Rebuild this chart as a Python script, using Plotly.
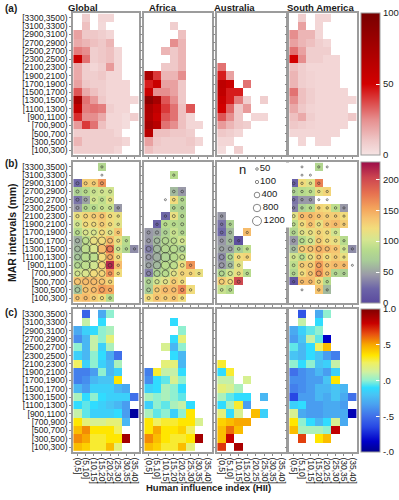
import math
import plotly.graph_objects as go

N = None
W, H = 399, 500

y_labels = ["[3300,3500)", "[3100,3300)", "[2900,3100)", "[2700,2900)", "[2500,2700)",
            "[2300,2500)", "[2100,2300)", "[1900,2100)", "[1700,1900)", "[1500,1700)",
            "[1300,1500)", "[1100,1300)", "[900,1100)", "[700,900)", "[500,700)",
            "[300,500)", "[100,300)"]
x_labels = ["(0,5]", "(5,10]", "(10,15]", "(15,20]", "(20,25]", "(25,30]", "(30,35]", "(35,40]"]
regions = ["Global", "Africa", "Australia", "South America"]
row_tags = ["(a)", "(b)", "(c)"]
legend_n = [50, 100, 400, 800, 1200]
cbar_a_ticks = [0, 50, 100]
cbar_b_ticks = [0, 50, 100, 150, 200]
cbar_c_ticks = [-1, -0.5, 0, 0.5, 1]
cbar_c_text = ["-.0", "-.5", ".0", ".5", "1.0"]

# ---------------- row (a) ----------------
glob_a = [
    [N, 8, N, 5, 5], [N, 12, N, 4], [20, 10, 10, 8, 5], [18, 15, 12, 10, 15],
    [28, 25, 8, 10, 12, 5], [55, 30, 8, 10, 12, 5], [18, 8, 5, 8, 22, 5],
    [18, 8, 8, 10, 5, 5], [20, 10, 8, 8, 5, 5, 5], [35, 18, 12, 8, 5, 5, 5],
    [75, 30, 22, 10, 5, 5, 5, 5], [60, 28, 30, 28, 8, 5, 5], [42, 25, 25, 18, 5, 5, 3, 8],
    [22, 40, 30, 12, 5, 5, 3], [8, 8, 8, 8, 8, 5], [15, 8, 8, 8, 8, 8, 5], [8, 8, 8, 8, 8, 5],
]
africa_a = [
    [], [N, N, N, 8], [N, N, N, N, 12], [N, N, N, 25, 15], [N, N, 15, 10, 15],
    [N, N, N, 10, 15], [N, N, 10, 10, 15], [72, 40, 15, 15, 25], [45, 55, 20, 20, 10],
    [55, 25, 25, 20, 10], [88, 75, 35, 25, 10], [72, 60, 40, 30, 12, 35],
    [70, 55, 35, 30, 12, 5], [75, 65, 30, 25, 12, 5, 5], [65, 12, 12, 10, 10, 8],
    [20, 10, 8, 8, 8, 10, 5], [12, 8, 8, 8, 8, 8],
]
australia_a = [
    [], [], [], [], [], [], [30], [45, 20], [62, 55, N, 30], [60, 45, 45],
    [55, 45, 28, 8, N, 8], [50, 32, 10, 22], [35, 25, 10, N, 5, 5], [22, 15, 10, 8],
    [10, 8, 5], [5, 5], [3, N, 8],
]
sa_a = [
    [N, 8, N, 5, 5], [N, 20, N, 5], [25, 15, 15, 5], [20, 15, 12, 8, 5], [30, 20, 8, 8, 8],
    [50, 25, 8, 8, 5, 5], [12, 8, 5, 5, 5, 5], [15, 8, 6, 5, 5, 5], [15, 8, 6, 5, 5, 5],
    [30, 12, 8, 5, 5, 5, 5], [25, 12, 8, 5, 5, 5, 5, 5], [18, 10, 6, 5, 5, 5, 5],
    [12, 18, 8, 5, 5, 5, 5, 10], [10, 8, 6, 5, 5, 5, 5], [5, 5, 5, 5, 5, 5], [N, 5, N, 5, 5], [],
]

# ---------------- row (b) ----------------
glob_b = [
    [N, N, N, 80], [], [25, 130, 130, 160], [75, 85, 95, 100, 100], [30, 50, 100, 90, 110],
    [45, 80, 85, 95, 95, 45], [115, 125, 130, 135, 120, 115], [100, 120, 120, 130, 120, 110],
    [85, 105, 105, 120, 110, 135], [55, 90, 115, 120, 140, 115, 85],
    [60, 90, 105, 140, 175, 100, 80, 40], [65, 85, 90, 120, 150, 120],
    [80, 90, 100, 125, 215, 140], [100, 105, 120, 125, 160, 120], [135, 140, 140, 135, 125],
    [65, 135, 140, 155, 150], [135, 140, 130, 120, 85],
]
glob_n = [
    [N, N, N, 30], [N, N, N, 20], [80, 80, 80, 80], [80, 80, 80, 80, 80], [80, 80, 80, 80, 80],
    [80, 80, 80, 80, 80, 40], [100, 150, 150, 150, 100, 40], [100, 200, 200, 150, 100, 40],
    [150, 300, 300, 300, 150, 40], [200, 600, 800, 800, 300, 80, 30],
    [400, 1200, 1300, 1200, 500, 100, 40, 30], [400, 1300, 1300, 1000, 300, 80],
    [400, 1200, 1200, 800, 150, 40], [300, 800, 800, 500, 100, 40], [500, 500, 500, 400, 100],
    [300, 300, 300, 300, 100], [100, 100, 100, 100, 50],
]
africa_b = [
    [], [N, N, N, 85], [], [N, N, N, 60, 45], [N, N, N, 120, 80], [N, N, N, 80, 75],
    [N, N, 25, 115, 80], [N, 20, 85, 85, 80], [45, 50, 75, 95, 80], [45, 60, 80, 90, 100],
    [35, 60, 80, 85, 75], [45, 55, 75, 85, 95], [50, 60, 85, 90, 115, 160],
    [35, 75, 85, 110, 125, 125, 115], [75, 100, 110, 130, 120], [70, 130, 140, 140, 165, 120],
    [120, 135, 130, 135, 120],
]
africa_n = [
    [], [N, N, N, 30], [], [N, N, N, 50, 50], [N, N, 20, 60, 60], [N, N, N, 60, 60],
    [N, N, 40, 80, 80], [N, 40, 80, 80, 80], [80, 100, 100, 100, 80], [150, 400, 600, 400, 150],
    [300, 800, 1000, 900, 300], [300, 1000, 1300, 1000, 300], [300, 800, 1000, 800, 150, 40],
    [200, 500, 600, 300, 100, 40, 30], [150, 200, 200, 150, 80], [150, 200, 200, 200, 100, 40],
    [80, 80, 80, 80, 50],
]
australia_b = [
    [], [], [], [], [], [], [45], [30, 75], [25, 60, N, 140], [45, 60, 5], [50, 50, 70, 90],
    [40, 75, 120, 125], [45, 60, 110], [80, 100, 115, 85], [130, 120, 200], [95, 85], [],
]
australia_n = [
    [], [], [], [], [], [], [40], [40, 30], [60, 60, N, 30], [100, 80, 30], [200, 150, 60, 30],
    [300, 200, 60, 40], [300, 150, 60], [300, 200, 80, 40], [300, 250, 80], [60, 60], [],
]
sa_b = [
    [N, N, N, 80], [], [20, 120, 110, 170], [75, 85, 90, 115, 125], [30, 45, 45],
    [35, 75, 85, 125, 120, 90, 45], [110, 140, 140, 135, 130, 130, 120],
    [90, 120, 135, 115, 135, 140, 130], [80, 110, 115, 125, 120, 100],
    [45, 85, 100, 130, 120, 115, 85], [60, 130, 135, 145, 140, 135, 100, 40],
    [100, 90, 115, 135, 120, 130, 115], [90, 130, 130, 155, 135, 140, 140],
    [80, 120, 135, 160, 135, 80, 75], [10, 140, 140, 120, 85], [N, N, N, 135, 60], [],
]
sa_n = [
    [N, 20, N, 30, 20], [N, 20, 20], [60, 40, 40, 40], [40, 40, 40, 40, 30],
    [40, 40, 40, 20, 20], [40, 40, 40, 40, 40, 40, 30], [80, 100, 100, 80, 60, 40, 30],
    [80, 100, 100, 100, 60, 40, 30], [80, 150, 150, 100, 80, 40],
    [80, 200, 200, 200, 100, 60, 30], [100, 300, 300, 300, 200, 60, 40, 30],
    [80, 200, 200, 150, 100, 60, 30], [60, 150, 200, 250, 100, 60, 40, 20],
    [60, 100, 150, 300, 100, 40, 30], [30, 80, 100, 100, 40], [N, 20, N, 40, 30], [],
]

# ---------------- row (c) ----------------
glob_c = [
    [N, -0.55, N, -0.3, 0.0], [N, 0.1, N, -0.1], [-0.3, -0.15, -0.1, 0.0, 0.05],
    [-0.4, -0.25, 0.1, 0.0, 0.2], [0.0, -0.25, 0.1, -0.15, 0.05],
    [-0.15, -0.25, 0.0, -0.1, -0.3, -0.5], [0.25, -0.15, 0.0, -0.15, -0.25, 0.05],
    [-0.45, -0.45, -0.35, 0.0, -0.25, -0.15], [-0.45, -0.4, -0.25, -0.2, -0.2, 0.35],
    [-0.25, -0.35, -0.15, -0.15, -0.15, -0.25, -0.3],
    [0.05, -0.1, 0.0, -0.1, -0.15, -0.15, -0.15, -0.5],
    [-0.1, -0.05, -0.1, -0.15, -0.2, -0.25, -0.35],
    [0.1, -0.05, -0.15, -0.15, -0.15, -0.1, -0.35, -0.95],
    [0.35, 0.2, 0.15, 0.15, 0.2, 0.2, -0.25], [0.45, 0.55, 0.35, 0.35, 0.35, 0.25],
    [0.55, 0.5, 0.3, 0.3, 0.35, 0.35, 0.9], [0.45, 0.4, 0.3, 0.3, 0.45, 0.2],
]
africa_c = [
    [], [N, N, N, -0.1], [N, N, N, N, 0.0], [N, N, N, -0.1, 0.2], [N, N, 0.15, -0.25, 0.0],
    [N, N, N, -0.1, -0.25], [N, N, 0.2, 0.2, -0.25], [-0.45, 0.3, 0.1, 0.1, -0.1],
    [-0.4, -0.1, -0.05, 0.15, 0.0], [-0.15, -0.1, 0.05, 0.0, -0.1],
    [0.05, 0.0, 0.05, 0.0, -0.05], [-0.15, 0.0, -0.05, 0.05, 0.1, -0.1],
    [0.05, -0.05, 0.0, -0.15, 0.0, 0.35], [0.35, 0.25, 0.3, 0.3, 0.35, 0.35, 0.15],
    [0.35, 0.5, 0.35, 0.35, 0.4, 0.25], [0.55, 0.45, 0.35, 0.3, 0.3, 0.35, 0.9],
    [0.45, 0.4, 0.3, 0.3, 0.45, 0.2],
]
australia_c = [
    [], [], [], [], [], [], [0.3], [-0.1, 0.3], [0.1, 0.1, N, 0.15], [0.2, 0.15, 0.05],
    [0.05, -0.05, -0.1, -0.1, N, -0.25], [-0.1, 0.05, 0.3, -0.35],
    [0.2, -0.1, 0.15, N, 0.45, -0.15], [0.4, 0.45, 0.5, 0.5], [0.45, 0.6, 0.45],
    [0.45, 0.8], [0.7, N, 0.88],
]
sa_c = [
    [N, -0.6, N, -0.3, 0.0], [N, 0.1, N, -0.1], [-0.3, -0.15, -0.05, 0.0],
    [-0.35, -0.2, 0.1, -0.05, -0.85], [-0.05, -0.25, -0.1, 0.25, 0.45],
    [-0.2, -0.25, -0.1, -0.2, -0.35, -0.45], [0.0, -0.1, 0.0, -0.2, -0.15, 0.1],
    [-0.5, -0.4, -0.35, -0.25, -0.35, -0.15], [-0.4, -0.4, -0.35, -0.35, -0.2, 0.35],
    [-0.45, -0.4, -0.35, -0.25, -0.25, -0.2, -0.25],
    [-0.65, -0.35, -0.35, -0.25, -0.3, -0.2, -0.3, -0.5],
    [-0.15, -0.1, -0.35, -0.35, -0.3, -0.3, -0.35],
    [0.15, -0.3, -0.35, -0.35, -0.3, -0.3, -0.3, -0.9],
    [0.35, 0.0, -0.1, -0.25, -0.1, 0.15, -0.3], [0.45, 0.05, 0.05, 0.05, 0.0, 0.82],
    [N, 0.68, N, 0.35, 0.45], [],
]


def grid(rows):
    return [list(r) + [None] * (len(x_labels) - len(r)) for r in rows]


rows_a = [glob_a, africa_a, australia_a, sa_a]
rows_b = [glob_b, africa_b, australia_b, sa_b]
rows_n = [glob_n, africa_n, australia_n, sa_n]
rows_c = [glob_c, africa_c, australia_c, sa_c]

# ---------------- styling ----------------
FONT = "Liberation Sans, Arial, sans-serif"
TXT = "#1a1a1a"
FRAME = "#9c9c9c"
panel_x = [(73, 139), (144, 212), (217, 286), (289, 357)]
panel_y = [(13, 155), (162, 303), (309, 452)]
title_x = [66, 147, 212, 285]
cb_left = 361

cs_a = [[0, "#f6e4e4"], [0.1, "#efc8c8"], [0.25, "#e68e8e"], [0.5, "#d20000"],
        [0.75, "#a60000"], [1, "#780000"]]
cs_b = [[0, "#5a4a9e"], [0.1, "#6c64a8"], [0.2, "#9a9aa8"], [0.3, "#a8cc98"],
        [0.38, "#b8dc8c"], [0.45, "#d6e690"], [0.53, "#f2dc7c"], [0.6, "#f6c270"],
        [0.67, "#f4a45c"], [0.78, "#e67050"], [0.89, "#cc4450"], [1, "#9c0c48"]]
cs_c = [[0, "#00008c"], [0.075, "#0000c8"], [0.175, "#2848e4"], [0.25, "#4070ea"],
        [0.33, "#4aa0f0"], [0.4, "#48c4f4"], [0.45, "#30dcff"], [0.5, "#90f0d0"],
        [0.56, "#d0f0a0"], [0.625, "#f0f060"], [0.675, "#ffe600"], [0.75, "#f8a800"],
        [0.825, "#e85010"], [0.9, "#c80000"], [1, "#800000"]]


def fx(p):
    return p / W


def fy(p):
    return 1 - p / H


def circle_size(n):
    return 1.0 + 0.23 * math.sqrt(n)


fig = go.Figure()
layout = dict(
    width=W, height=H, margin=dict(l=0, r=0, t=0, b=0, autoexpand=False),
    paper_bgcolor="white", plot_bgcolor="white", showlegend=False,
    font=dict(family=FONT, color=TXT, size=9),
)

row_data = [rows_a, rows_b, rows_c]
row_cax = ["coloraxis", "coloraxis2", "coloraxis3"]

for r in range(3):
    for c in range(4):
        idx = r * 4 + c + 1
        sfx = "" if idx == 1 else str(idx)
        fig.add_trace(go.Heatmap(
            x=x_labels, y=y_labels, z=grid(row_data[r][c]), coloraxis=row_cax[r],
            xaxis="x" + sfx, yaxis="y" + sfx, hoverongaps=False,
        ))
        if r == 1:
            ng = grid(rows_n[c])
            xs, ys, ss = [], [], []
            for i, yl in enumerate(y_labels):
                for j, xl in enumerate(x_labels):
                    if ng[i][j] is not None:
                        xs.append(xl)
                        ys.append(yl)
                        ss.append(circle_size(ng[i][j]))
            fig.add_trace(go.Scatter(
                x=xs, y=ys, mode="markers", xaxis="x" + sfx, yaxis="y" + sfx,
                marker=dict(symbol="circle-open", size=ss, color="#2a2a2a",
                            line=dict(width=0.8)),
                hoverinfo="skip",
            ))
        x0, x1 = panel_x[c]
        y0, y1 = panel_y[r]
        layout["xaxis" + sfx] = dict(
            domain=[fx(x0), fx(x1)], anchor="y" + sfx, type="category",
            categoryorder="array", categoryarray=x_labels, range=[-0.55, 7.55],
            tickmode="array", tickvals=x_labels, ticktext=x_labels,
            showticklabels=(r == 2), tickangle=90, tickfont=dict(size=8.5, color=TXT),
            ticks="outside", ticklen=2, tickwidth=1, tickcolor="#8a8a8a",
            showline=True, mirror=True, linecolor=FRAME, linewidth=1.5,
            showgrid=False, zeroline=False, fixedrange=True,
        )
        layout["yaxis" + sfx] = dict(
            domain=[fy(y1), fy(y0)], anchor="x" + sfx, type="category",
            categoryorder="array", categoryarray=y_labels, range=[16.6, -0.6],
            tickmode="array", tickvals=y_labels, ticktext=y_labels,
            showticklabels=(c == 0), tickfont=dict(size=8.5, color=TXT),
            ticks="outside", ticklen=2, tickwidth=1, tickcolor="#8a8a8a",
            showline=True, mirror=True, linecolor=FRAME, linewidth=1.5,
            showgrid=False, zeroline=False, fixedrange=True,
        )

# legend for n (drawn on its own small axis inside the Australia (b) panel)
fig.add_trace(go.Scatter(
    x=[0] * len(legend_n), y=list(range(len(legend_n))),
    text=[str(v) for v in legend_n], mode="markers+text", textposition="middle right",
    textfont=dict(size=9.5, color=TXT),
    marker=dict(symbol="circle-open", size=[circle_size(v) for v in legend_n],
                color="#2a2a2a", line=dict(width=0.8)),
    xaxis="x13", yaxis="y13", hoverinfo="skip",
))
layout["xaxis13"] = dict(domain=[fx(252), fx(292)], anchor="y13", range=[-0.5, 3.5],
                         visible=False, fixedrange=True)
layout["yaxis13"] = dict(domain=[fy(227.5), fy(162.5)], anchor="x13", range=[4.5, -0.5],
                         visible=False, fixedrange=True)


def cbar(y0, y1, tickvals, ticktext=None):
    d = dict(x=fx(cb_left), xanchor="left", y=fy(y0), yanchor="top",
             len=(y1 - y0) / H, lenmode="fraction", thickness=19, thicknessmode="pixels",
             xpad=0, ypad=0, outlinecolor="#9c9c9c", outlinewidth=1,
             tickmode="array", tickvals=tickvals, ticks="inside", ticklen=4,
             tickcolor="white", tickwidth=1, tickfont=dict(size=9.5, color=TXT))
    if ticktext is not None:
        d["ticktext"] = ticktext
    return d


layout["coloraxis"] = dict(colorscale=cs_a, cmin=0, cmax=100,
                           colorbar=cbar(panel_y[0][0], panel_y[0][1], cbar_a_ticks))
layout["coloraxis2"] = dict(colorscale=cs_b, cmin=0, cmax=228,
                            colorbar=cbar(panel_y[1][0], panel_y[1][1], cbar_b_ticks))
layout["coloraxis3"] = dict(colorscale=cs_c, cmin=-1, cmax=1,
                            colorbar=cbar(panel_y[2][0], panel_y[2][1], cbar_c_ticks,
                                          cbar_c_text))

ann = []
for c, name in enumerate(regions):
    ann.append(dict(text="<b>%s</b>" % name, x=fx(title_x[c]), y=fy(7), xref="paper",
                    yref="paper", xanchor="left", yanchor="middle", showarrow=False,
                    font=dict(size=9.5, color=TXT)))
tag_y = [8, 163, 312]
for r, tag in enumerate(row_tags):
    ann.append(dict(text="<b>%s</b>" % tag, x=fx(3), y=fy(tag_y[r]), xref="paper",
                    yref="paper", xanchor="left", yanchor="middle", showarrow=False,
                    font=dict(size=10, color=TXT)))
ann.append(dict(text="<b>MAR intervals (mm)</b>", x=fx(12), y=fy(233), xref="paper",
                yref="paper", xanchor="center", yanchor="middle", textangle=-90,
                showarrow=False, font=dict(size=10.5, color=TXT)))
ann.append(dict(text="<b>Human influence index (HII)</b>", x=fx(208), y=fy(487),
                xref="paper", yref="paper", xanchor="center", yanchor="middle",
                showarrow=False, font=dict(size=9.5, color=TXT)))
ann.append(dict(text="n", x=fx(242), y=fy(169), xref="paper", yref="paper",
                xanchor="center", yanchor="middle", showarrow=False,
                font=dict(size=13, color=TXT)))
layout["annotations"] = ann

fig.update_layout(**layout)
fig.write_html(
    "out.html",
    config={"displayModeBar": False},
    post_script="document.body.style.margin='0';document.body.style.padding='0';"
                "document.documentElement.style.margin='0';",
)
